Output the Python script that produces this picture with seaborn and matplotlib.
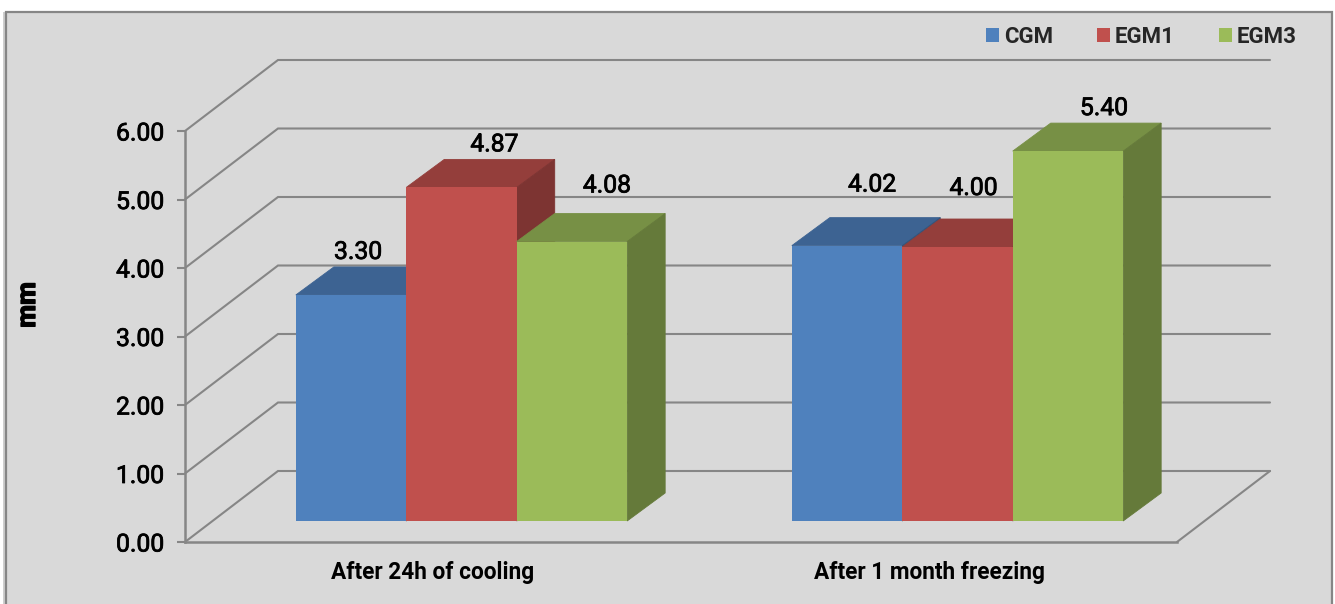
import matplotlib
matplotlib.use("Agg")
import matplotlib.pyplot as plt
from matplotlib.patches import Polygon, Rectangle, Patch
from matplotlib.colors import to_rgb
import matplotlib.patheffects as pe
import pandas as pd
import seaborn as sns

# ---- data ----
conditions = ["After 24h of cooling", "After 1 month freezing"]
groups = ["CGM", "EGM1", "EGM3"]
cgm = [3.30, 4.02]
egm1 = [4.87, 4.00]
egm3 = [4.08, 5.40]
y_ticks = [0, 1, 2, 3, 4, 5, 6]
y_label = "mm"

# ---- styles ----
colors = ["#4F81BD", "#C0504D", "#9BBB59"]
GRID = "#868686"
BG = "#D9D9D9"
W, H = 1335, 604
FONT = ["Roboto", "DejaVu Sans"]
label_offsets = [(7, 43), (33, 43), (35, 56), (25, 61), (16, 59), (36, 43)]
MEDIUM = [pe.withStroke(linewidth=0.55, foreground="black")]
HEAVY = [pe.withStroke(linewidth=1.0, foreground="black")]

sns.set_theme(style="white")
plt.rcParams["font.family"] = FONT

df = pd.DataFrame({
    "condition": conditions * 3,
    "group": [g for g in groups for _ in conditions],
    "value": cgm + egm1 + egm3,
})

fig = plt.figure(figsize=(W / 100, H / 100), dpi=100, facecolor="white")


def px_axes(left, top, right, bottom):
    return fig.add_axes([left / W, (H - bottom) / H, (right - left) / W, (bottom - top) / H])


# outer panel
fig.add_artist(Rectangle((3 / W, 0), 3 / W, (H - 12) / H, transform=fig.transFigure,
                         facecolor="#CFCFCF", edgecolor="none", zorder=-2))
fig.add_artist(Rectangle((6 / W, -0.01), 1326 / W, (H - 12) / H + 0.01, transform=fig.transFigure,
                         facecolor=BG, edgecolor=GRID, linewidth=1.6, zorder=-1))

# front plane: axis, ticks and labels
ax = px_axes(185, 131, 1177, 542)
ax.set_facecolor("none")
ax.set_xlim(-0.5, 1.5)
ax.set_ylim(0, 6)
x_per_px = 2 / 992
y_per_px = 6 / 411
back_dx, back_dy = 93 * x_per_px, 71 * y_per_px

for t in y_ticks:
    ax.plot([-0.5, -0.5 + back_dx, 1.5 + back_dx], [t, t + back_dy, t + back_dy],
            color=GRID, lw=1.5, clip_on=False, zorder=1, solid_joinstyle="miter")
ax.plot([1.5, 1.5 + back_dx], [0, back_dy], color=GRID, lw=1.5, clip_on=False, zorder=1)

for side in ["top", "right"]:
    ax.spines[side].set_visible(False)
for side in ["left", "bottom"]:
    ax.spines[side].set_color(GRID)
    ax.spines[side].set_linewidth(1.8)
ax.set_yticks(y_ticks)
ax.set_yticklabels([f"{t:.2f}" for t in y_ticks], fontsize=17.8, color="black")
for lab in ax.get_yticklabels():
    lab.set_path_effects(MEDIUM)
ax.set_xticks([0, 1])
ax.set_xticklabels(conditions, fontsize=16.3, color="black", fontweight="bold")
ax.tick_params(axis="y", length=6, width=1.5, color=GRID, pad=9, left=True)
ax.tick_params(axis="x", length=0, pad=14)

fig.text(28 / W, 1 - 305 / H, y_label, rotation=90, ha="center", va="center",
         fontsize=19, fontweight="bold", color="black", path_effects=HEAVY)

# bar plane, set back from the front plane
ax_b = px_axes(185 + 28.5, 131 - 21, 1177 + 28.5, 542 - 21)
ax_b.set_facecolor("none")
sns.barplot(data=df, x="condition", y="value", hue="group", order=conditions, hue_order=groups,
            palette=colors, width=0.668, gap=0, dodge=True, legend=False, errorbar=None,
            saturation=1, linewidth=0, ax=ax_b)
ax_b.set_xlim(-0.5, 1.5)
ax_b.set_ylim(0, 6)
ax_b.axis("off")

bar_dx, bar_dy = 38 * x_per_px, 28 * y_per_px


def shade(c, k):
    return tuple(v * k for v in to_rgb(c))


bars = sorted(ax_b.patches, key=lambda p: p.get_x())
for i, bar in enumerate(bars):
    x0, w, h = bar.get_x(), bar.get_width(), bar.get_height()
    x1 = x0 + w
    col = bar.get_facecolor()[:3]
    z = 3 + i
    bar.set_zorder(z + 0.2)
    top_col = shade(col, 0.77)
    side_col = shade(col, 0.65)
    ax_b.add_patch(Polygon([(x0, h), (x1, h), (x1 + bar_dx, h + bar_dy), (x0 + bar_dx, h + bar_dy)],
                           closed=True, facecolor=top_col, edgecolor=top_col, linewidth=0.6,
                           clip_on=False, zorder=z))
    ax_b.add_patch(Polygon([(x1, 0), (x1 + bar_dx, bar_dy), (x1 + bar_dx, h + bar_dy), (x1, h)],
                           closed=True, facecolor=side_col, edgecolor=side_col, linewidth=0.6,
                           clip_on=False, zorder=z + 0.1))
    ox, oy = label_offsets[i]
    ax_b.annotate(f"{h:.2f}", (x0 + w / 2, h), xytext=(ox, oy), textcoords="offset pixels",
                  ha="center", va="center", fontsize=17.8, color="black",
                  annotation_clip=False, zorder=30, path_effects=MEDIUM)

# legend
handles = [Patch(facecolor=c, edgecolor="none", label=g) for c, g in zip(colors, groups)]
leg = fig.legend(handles=handles, ncol=3, frameon=False, loc="center right",
                 bbox_to_anchor=(1297 / W, 1 - 37 / H),
                 prop={"size": 16, "weight": "bold"},
                 handlelength=0.585, handleheight=0.585, handletextpad=0.225,
                 columnspacing=1.98, borderpad=0, borderaxespad=0)

fig.savefig("out.png", dpi=100, facecolor="white")
